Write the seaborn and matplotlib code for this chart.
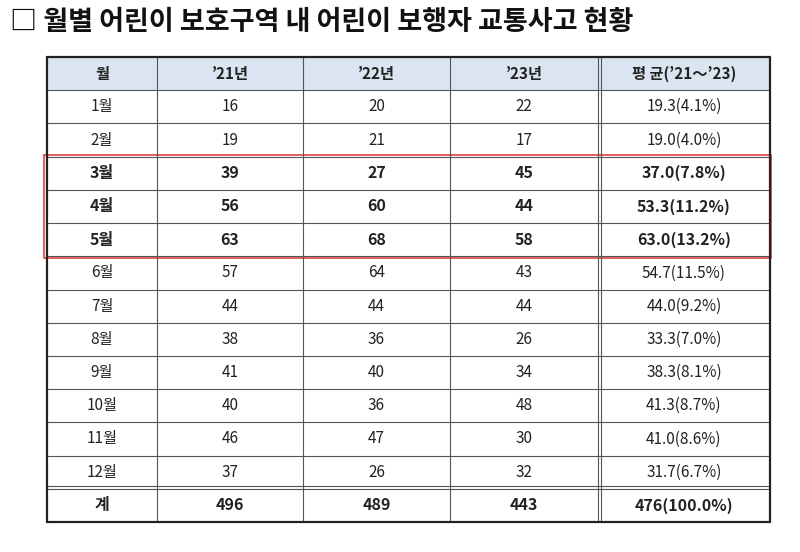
import numpy as np
import matplotlib.pyplot as plt
import seaborn as sns
from matplotlib.patches import Rectangle

sns.set_theme(style="white", font="Noto Sans CJK KR")

months = ["1월", "2월", "3월", "4월", "5월", "6월", "7월", "8월", "9월", "10월", "11월", "12월"]
y21 = [16, 19, 39, 56, 63, 57, 44, 38, 41, 40, 46, 37]
y22 = [20, 21, 27, 60, 68, 64, 44, 36, 40, 36, 47, 26]
y23 = [22, 17, 45, 44, 58, 43, 44, 26, 34, 48, 30, 32]
avg = ["19.3(4.1%)", "19.0(4.0%)", "37.0(7.8%)", "53.3(11.2%)", "63.0(13.2%)", "54.7(11.5%)",
       "44.0(9.2%)", "33.3(7.0%)", "38.3(8.1%)", "41.3(8.7%)", "41.0(8.6%)", "31.7(6.7%)"]
totals = ["496", "489", "443", "476(100.0%)"]
header = ["월", "’21년", "’22년", "’23년", "평 균(’21～’23)"]
bold_rows = {"3월", "4월", "5월"}

rows = [header]
for i, m in enumerate(months):
    rows.append([m, str(y21[i]), str(y22[i]), str(y23[i]), avg[i]])
rows.append(["계"] + totals)

xe = [47, 157, 303, 450, 598, 770]
top, bot = 57, 522
nrow = len(rows)
rh = (bot - top) / nrow

fig = plt.figure(figsize=(8, 5.52), dpi=100)
ax = fig.add_axes([0, 0, 1, 1])
ax.set_xlim(0, 800)
ax.set_ylim(552, 0)
ax.axis("off")

ax.text(10, 22, "□ 월별 어린이 보호구역 내 어린이 보행자 교통사고 현황", fontsize=19.5,
        fontweight="bold", va="center", ha="left", color="#111")

# header background
ax.add_patch(Rectangle((xe[0], top), xe[-1] - xe[0], rh, fc="#dbe5f1", ec="none"))

for r, row in enumerate(rows):
    yc = top + rh * (r + 0.5)
    bold = r == 0 or row[0] in bold_rows or row[0] == "계"
    for c, val in enumerate(row):
        xc = (xe[c] + xe[c + 1]) / 2
        ax.text(xc, yc, val, ha="center", va="center",
                fontsize=11.5 if bold and r > 0 else 11,
                fontweight="bold" if bold else "normal", color="#222")

lc = "#555"
for r in range(1, nrow):
    y = top + rh * r
    ax.plot([xe[0], xe[-1]], [y, y], color=lc, lw=0.8)
# double line above total
y = top + rh * (nrow - 1)
ax.plot([xe[0], xe[-1]], [y - 3, y - 3], color=lc, lw=0.8)
for c, x in enumerate(xe):
    ax.plot([x, x], [top, bot], color="#222" if c in (0, 5) else lc, lw=1.6 if c in (0, 5) else 0.8)
ax.plot([xe[4] + 3] * 2, [top, bot], color=lc, lw=0.8)
ax.plot([xe[0], xe[-1]], [top, top], color="#222", lw=1.6)
ax.plot([xe[0], xe[-1]], [bot, bot], color="#222", lw=1.6)

# red highlight box around 3~5월
ax.add_patch(Rectangle((44, top + rh * 3 - 2), 727, rh * 3 + 4, fc="none", ec="#e05050", lw=1.3))

fig.savefig("out.png", dpi=100)
